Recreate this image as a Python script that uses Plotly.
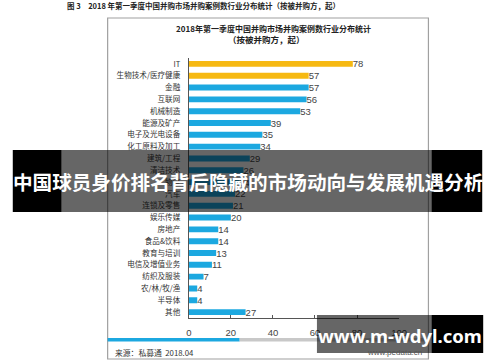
import plotly.graph_objects as go

W, H = 500, 362

categories = ["IT", "生物技术/医疗健康", "金融", "互联网", "机械制造", "能源及矿产",
              "电子及光电设备", "化工原料及加工", "建筑/工程", "清洁技术", "物流", "汽车",
              "连锁及零售", "娱乐传媒", "房地产", "食品&饮料", "教育与培训", "电信及增值业务",
              "纺织及服装", "农/林/牧/渔", "半导体", "其他"]
values = [78, 57, 57, 56, 53, 39, 35, 34, 29, 26, 24, 22, 21, 20, 14, 14, 13, 11, 7, 4, 4, 27]
x_ticks = [0, 20, 40, 60, 80, 100]

GOLD = "#F6B912"
BLUE = "#1CA8E0"
colors = [GOLD if i < 2 else BLUE for i in range(len(values))]

def px(x):
    return x / W

def py(y):
    return 1 - y / H

fig = go.Figure()
fig.add_trace(go.Bar(
    x=values, y=categories, orientation="h",
    marker=dict(color=colors, line=dict(width=0)),
    text=[str(v) for v in values], textposition="outside", constraintext="none",
    textfont=dict(family="Liberation Sans, Arial, sans-serif", size=9.5, color="#444444"),
    cliponaxis=False, width=0.5,
))

FONT = "Noto Sans CJK SC"

fig.update_layout(
    width=W, height=H,
    margin=dict(l=0, r=0, t=0, b=0),
    paper_bgcolor="white", plot_bgcolor="white",
    showlegend=False,
    font=dict(family=FONT, size=9, color="#333333"),
    xaxis=dict(domain=[px(190), px(405)], range=[0, 100], tickvals=x_ticks,
               showgrid=False, zeroline=False, showline=True, linecolor="#555555",
               linewidth=1, ticks="inside", ticklen=3, tickcolor="#555555",
               ticklabelstandoff=6,
               tickfont=dict(family="Liberation Sans, Arial, sans-serif", size=9.5, color="#444444"),
               fixedrange=True),
    yaxis=dict(domain=[py(318), py(58)], autorange="reversed", type="category",
               showgrid=False, zeroline=False, showline=True, linecolor="#555555",
               linewidth=1, ticks="", ticklabelstandoff=6,
               tickfont=dict(family=FONT, size=7.6, color="#333333"),
               fixedrange=True),
    bargap=0.5,
)

shapes = []
# chart frame
shapes.append(dict(type="rect", xref="paper", yref="paper", x0=px(107), x1=px(435),
                   y0=py(359), y1=py(18), line=dict(color="#A0A0A0", width=1.2),
                   fillcolor="rgba(0,0,0,0)", layer="below"))
# progress bar
shapes.append(dict(type="rect", xref="paper", yref="paper", x0=px(107), x1=px(242),
                   y0=py(341.5), y1=py(338), line=dict(width=0), fillcolor="#1CA8E0", layer="below"))
shapes.append(dict(type="rect", xref="paper", yref="paper", x0=px(242), x1=px(435),
                   y0=py(341.5), y1=py(338), line=dict(width=0), fillcolor="#C8C8C8", layer="below"))
# banner overlay
shapes.append(dict(type="rect", xref="paper", yref="paper", x0=px(10), x1=px(60),
                   y0=py(212), y1=py(150), line=dict(width=0), fillcolor="#000000", layer="above"))
shapes.append(dict(type="rect", xref="paper", yref="paper", x0=px(60), x1=px(438),
                   y0=py(212), y1=py(150), line=dict(width=0), fillcolor="rgba(0,0,0,0.6)", layer="above"))
shapes.append(dict(type="rect", xref="paper", yref="paper", x0=px(438), x1=px(490),
                   y0=py(212), y1=py(150), line=dict(width=0), fillcolor="#000000", layer="above"))
# watermark overlay
shapes.append(dict(type="rect", xref="paper", yref="paper", x0=px(321), x1=px(438),
                   y0=py(353), y1=py(315), line=dict(width=0), fillcolor="rgba(0,0,0,0.6)", layer="above"))
shapes.append(dict(type="rect", xref="paper", yref="paper", x0=px(438), x1=px(491),
                   y0=py(353), y1=py(315), line=dict(width=0), fillcolor="#000000", layer="above"))
fig.update_layout(shapes=shapes)

ann = []
def text(x, y, s, size, color="#333333", xanchor="left", bold=False, family=FONT):
    ann.append(dict(xref="paper", yref="paper", x=px(x), y=py(y), text=("<b>%s</b>" % s) if bold else s,
                    showarrow=False, xanchor=xanchor, yanchor="middle",
                    font=dict(family=family, size=size, color=color)))

text(63, 6, "图 3　2018 年第一季度中国并购市场并购案例数行业分布统计（按被并购方，起）", 7.5, "#222222", bold=True)
text(277, 28, "2018年第一季度中国并购市场并购案例数行业分布统计", 8, "#222222", "center", bold=True)
text(269, 39, "（按被并购方，起）", 8.5, "#222222", "center", bold=True)
text(112, 352, "来源：私募通  2018.04", 7.8, "#333333")
text(430, 352, "www.pedata.cn", 8, "#555555", "right", family="Liberation Sans, Arial, sans-serif")
text(250, 181, "中国球员身价排名背后隐藏的市场动向与发展机遇分析", 19.6, "#FFFFFF", "center", bold=True)
text(406, 335, "www.m-wdyl.com", 18.5, "#FFFFFF", "center", bold=True, family="Noto Sans")
fig.update_layout(annotations=ann)

fig.write_html("out.html", config={"displayModeBar": False},
               post_script="document.body.style.margin='0';document.body.style.overflow='hidden';")
